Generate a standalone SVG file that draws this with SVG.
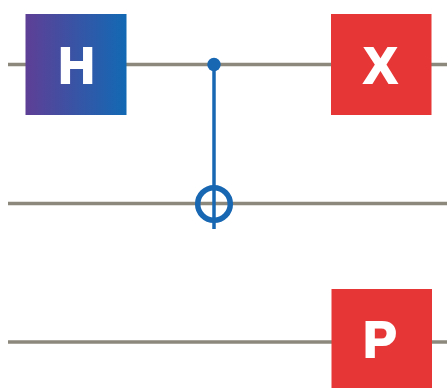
<svg xmlns="http://www.w3.org/2000/svg" width="447" height="388" viewBox="0 0 447 388">
<style>
.wire{stroke:#8c887c;stroke-width:3.500;fill:none}
.ctl{stroke:#1767b3;fill:none}
.lbl{font-family:"Liberation Sans",Arial,sans-serif;font-weight:700;font-size:50px;fill:#fff;stroke:#fff;stroke-width:2;text-anchor:middle}
</style>
<defs>
<linearGradient id="hg" x1="0" y1="0" x2="1" y2="0"><stop offset="0" stop-color="#5e3f96"/><stop offset="1" stop-color="#1269b4"/></linearGradient>
</defs>
<rect width="447" height="388" fill="#fff"/>
<g id="connectors">
<line class="wire" x1="8" y1="64.500" x2="447" y2="64.500"/>
<line class="wire" x1="8" y1="203.500" x2="447" y2="203.500"/>
<line class="wire" x1="8" y1="342" x2="447" y2="342"/>
<line class="ctl" stroke-width="3.500" x1="214" y1="64" x2="214" y2="229"/>
</g>
<g id="gate-h"><rect x="25.500" y="14" width="101" height="101" fill="url(#hg)"/><text class="lbl" x="76.500" y="83">H</text></g>
<g id="gate-x"><rect x="331" y="14" width="100.500" height="101" fill="#e63636"/><text class="lbl" x="380.500" y="83">X</text></g>
<g id="gate-p"><rect x="331.500" y="289" width="100.500" height="99" fill="#e63636"/><text class="lbl" x="380" y="357">P</text></g>
<g id="control"><circle cx="214" cy="64.500" r="6.700" fill="#1767b3"/></g>
<g id="target"><circle class="ctl" cx="214" cy="204" r="16.300" stroke-width="5.500"/></g>
</svg>
